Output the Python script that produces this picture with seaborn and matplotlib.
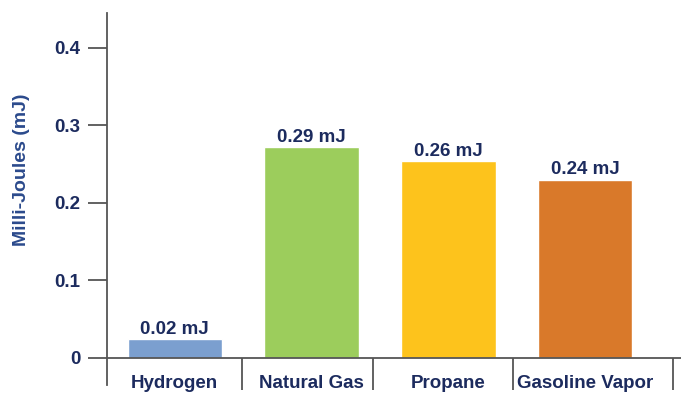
import numpy as np
import pandas as pd
import seaborn as sns
import matplotlib.pyplot as plt

## Data ##
fuels = ["Hydrogen", "Natural Gas", "Propane", "Gasoline Vapor"]
energy_mj = [0.024, 0.272, 0.254, 0.230]
value_labels = ["0.02 mJ", "0.29 mJ", "0.26 mJ", "0.24 mJ"]
bar_colors = ["#7b9fcf", "#9ccd5c", "#fdc31c", "#d9792a"]
y_ticks = [0, 0.1, 0.2, 0.3, 0.4]
y_tick_labels = ["0", "0.1", "0.2", "0.3", "0.4"]

navy = "#1c2b5e"
axis_grey = "#555555"

sns.set_style("white")
plt.rcParams['font.family'] = ['Liberation Sans', 'DejaVu Sans']

df = pd.DataFrame({"fuel": fuels, "energy": energy_mj})

fig = plt.figure(figsize=(6.81, 4.03), dpi=100)
ax = fig.add_axes([107 / 681, 18 / 403, 574 / 681, 372 / 403])

sns.barplot(data=df, x="fuel", y="energy", hue="fuel", palette=bar_colors,
            width=0.69, legend=False, saturation=1, ax=ax)

for cont, lab in zip(ax.containers, value_labels):
    ax.bar_label(cont, labels=[lab], padding=1, fontsize=13.5,
                 fontweight="bold", color=navy)

ax.set_xlim(-0.495, 3.7)
ax.set_ylim(-0.035, 0.445)

# y axis
ax.set_yticks(y_ticks)
ax.set_yticklabels(y_tick_labels, fontsize=13.5, fontweight="bold", color=navy)
ax.tick_params(axis="y", direction="out", length=14, width=1.3,
               color=axis_grey, pad=5, left=True)
ax.set_ylabel("Milli-Joules (mJ)", fontsize=14, fontweight="bold",
              color="#2b4a8c")
ax.yaxis.set_label_coords(-0.134, 0.578)

# x axis: baseline at zero, separator ticks between categories
for side in ["top", "right"]:
    ax.spines[side].set_visible(False)
ax.spines["left"].set_color(axis_grey)
ax.spines["left"].set_linewidth(1.3)
ax.spines["bottom"].set_position(("data", 0))
ax.spines["bottom"].set_color(axis_grey)
ax.spines["bottom"].set_linewidth(1.3)

ax.set_xticks(range(len(fuels)))
ax.set_xticklabels(fuels, fontsize=13.5, fontweight="bold", color=navy)
ax.get_xticklabels()[3].set_x(3.03)
ax.set_xticks([0.49, 1.45, 2.47, 3.64], minor=True)
ax.tick_params(axis="x", which="major", length=0, pad=12)
ax.tick_params(axis="x", which="minor", direction="out", length=23,
               width=1.3, color=axis_grey, bottom=True)
ax.set_xlabel("")

fig.savefig("out.png", dpi=100)
